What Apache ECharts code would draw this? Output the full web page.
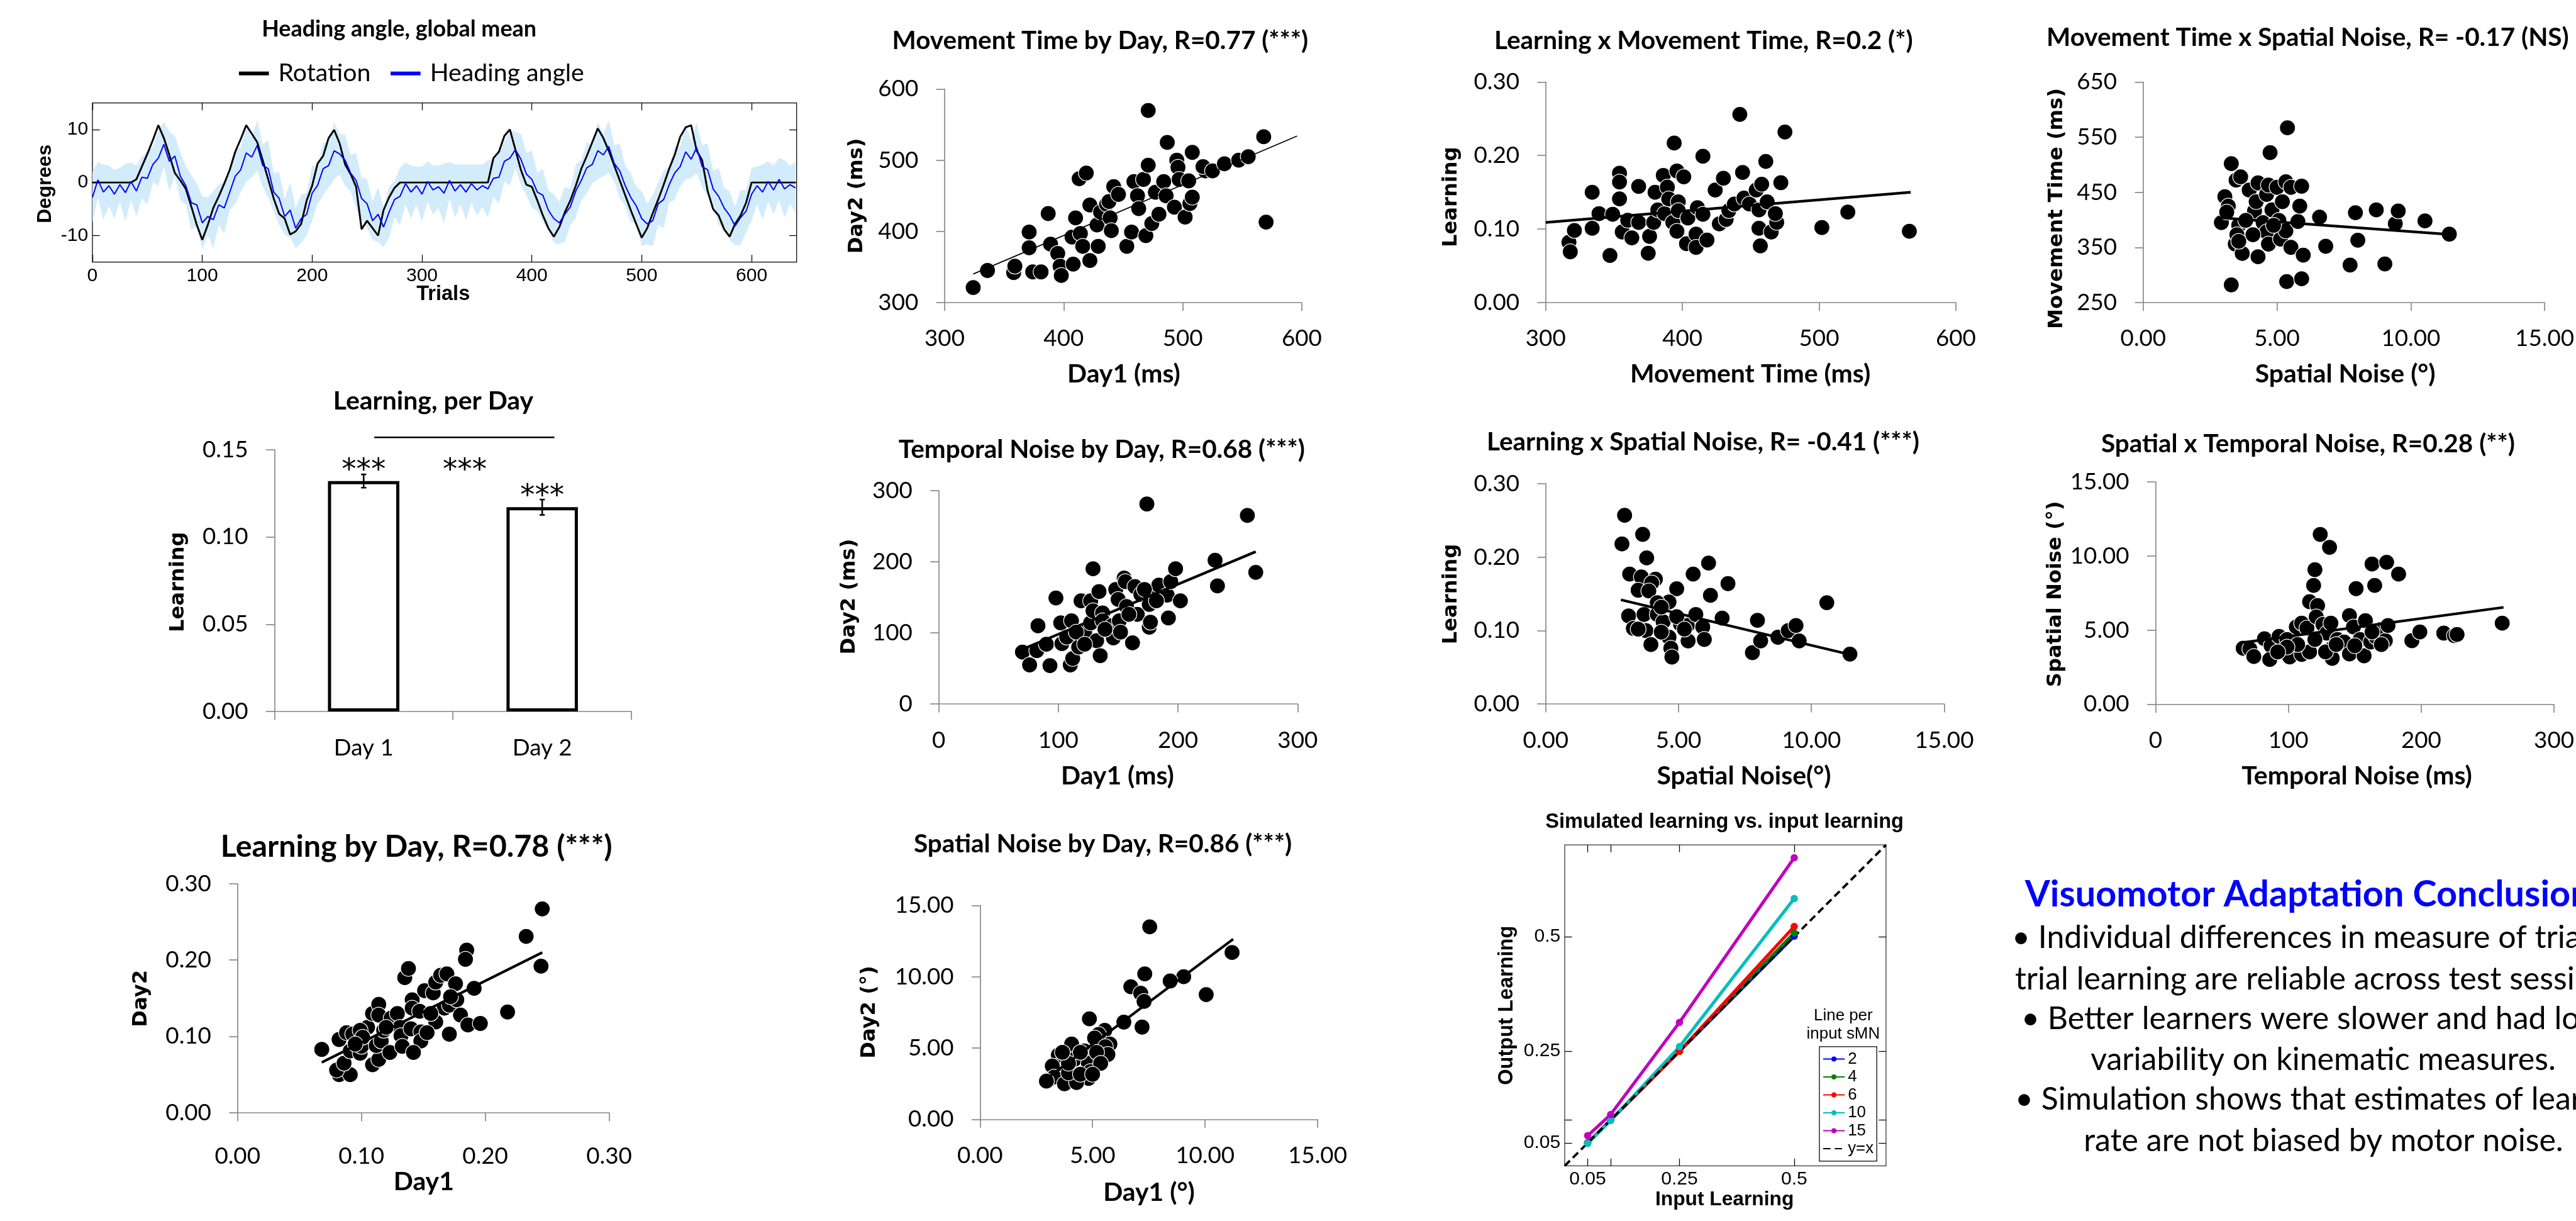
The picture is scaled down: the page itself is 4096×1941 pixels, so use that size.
<!DOCTYPE html>
<html>
<head>
<meta charset="utf-8">
<script src="https://cdn.jsdelivr.net/npm/echarts@6.0.0/dist/echarts.min.js"></script>
<style>
  html, body { margin: 0; padding: 0; background: #fff; }
  #chart { width: 4096px; height: 1941px; }
</style>
</head>
<body>
<div id="chart"></div>
<script>
// everything below is measured on the 4901px wide original, then scaled
const S = 0.835;
const p = v => v * S;

// ---- heading angle (sampled every 5 trials) ----
const trialStep = 5;
const rotationDeg = [
  0, 0, 0, 0, 0, 0, 0, 0, 0.6, 3.0,
  5.4, 8.0, 10.8, 8.4, 5.2, 1.8, 0.4, -1.2, -4.5, -8.0,
  -10.8, -8.0, -4.8, -2.6, -0.2, 2.4, 5.8, 8.2, 10.8, 9.2,
  7.6, 4.2, 0.6, -3.0, -5.9, -6.8, -9.8, -9.2, -7.8, -3.4,
  -0.6, 3.6, 5.0, 8.4, 9.9, 7.4, 3.4, 1.6, -0.8, -8.8,
  -7.2, -8.6, -10.0, -5.2, -2.8, -1.0, 0, 0, 0, 0,
  0, 0, 0, 0, 0, 0, 0, 0, 0, 0,
  0, 0, 0, 4.6, 5.8, 8.8, 10.0, 6.2, 2.4, -0.4,
  -0.8, -3.4, -6.2, -8.6, -10.2, -8.4, -5.6, -3.4, -0.6, 2.6,
  5.0, 7.6, 10.2, 8.4, 6.0, 3.2, 0.4, -2.4, -5.2, -7.8,
  -10.4, -8.6, -5.8, -3.2, -0.4, 2.6, 5.2, 8.6, 10.4, 10.8,
  6.0, 4.2, -1.6, -5.0, -6.2, -8.8, -10.2, -7.8, -6.2, -3.8,
  0, 0, 0, 0, 0, 0, 0, 0, 0
];
const headingDeg = [
  -2.8, 0.5, -1.8, -0.6, -2.2, -0.4, -1.9, 0.2, -1.6, 1.0,
  0.8, 3.4, 4.6, 7.2, 4.0, 5.0, 1.2, -0.6, -3.8, -4.2,
  -7.6, -6.4, -7.0, -4.2, -4.8, -1.8, 1.2, 2.4, 5.6, 4.8,
  7.0, 3.2, 2.6, -1.8, -3.0, -6.4, -5.2, -8.6, -6.8, -6.0,
  -2.0, -0.5, 2.6, 3.2, 6.0, 5.4, 4.2, 1.8, 0.4, -3.0,
  -4.0, -7.2, -6.0, -8.4, -5.6, -3.2, -2.6, -0.2, -1.8, -0.6,
  -2.2, 0.2, -1.4, -0.8, -2.0, 0.4, -1.6, -0.4, -1.8, -0.2,
  -1.4, -0.6, -1.2, 0.8, 1.0, 4.0, 4.6, 6.2, 4.4, 1.6,
  0.6, -1.8, -2.4, -5.2, -6.8, -7.6, -6.0, -4.6, -1.6, 0.4,
  2.8, 3.4, 6.0, 5.2, 6.8, 3.6, 2.2, -0.6, -2.8, -4.4,
  -6.8, -7.8, -7.2, -4.0, -3.2, -0.4, 1.8, 3.0, 5.8, 4.4,
  6.6, 3.0, 2.4, -1.2, -2.6, -4.8, -6.2, -8.2, -6.6, -5.4,
  -2.2, -0.6, -1.8, 0.2, -1.4, 0.6, -1.2, -0.4, -1.0
];
const headingSd = [
  4.8, 3.4, 5.2, 3.8, 4.6, 3.2, 5.4, 3.6, 4.8, 4.0,
  5.0, 3.4, 5.2, 4.2, 5.6, 3.8, 4.6, 3.6, 5.2, 4.0,
  5.0, 3.6, 5.4, 3.8, 4.8, 3.4, 5.2, 4.2, 5.4, 3.8,
  4.8, 4.0, 5.4, 3.6, 5.0, 3.4, 5.2, 3.8, 4.6, 4.0,
  5.2, 3.6, 5.0, 4.2, 5.4, 3.8, 4.8, 3.4, 5.2, 4.0,
  4.6, 3.6, 5.2, 3.8, 4.8, 3.4, 5.4, 4.0, 5.0, 3.6,
  5.2, 3.8, 4.6, 4.0, 5.6, 3.4, 5.0, 3.8, 5.2, 3.6,
  4.8, 4.0, 5.4, 3.6, 5.0, 3.8, 5.2, 3.4, 4.8, 4.0,
  5.4, 3.6, 5.0, 3.8, 4.6, 4.0, 5.2, 3.4, 5.0, 3.8,
  4.8, 3.6, 5.4, 4.0, 5.0, 3.4, 5.2, 3.8, 4.6, 3.6,
  5.2, 3.8, 4.8, 4.0, 5.4, 3.4, 5.0, 3.8, 5.2, 3.6,
  4.8, 4.0, 5.0, 3.4, 5.4, 3.8, 4.6, 3.6, 5.2, 4.0,
  5.0, 3.6, 5.2, 3.8, 4.6, 4.0, 5.4, 3.6, 4.8
];
const trialTicks = [0, 100, 200, 300, 400, 500, 600];
const degTicks = [-10, 0, 10];

// ---- learning per day ----
const dayLabels = ['Day 1', 'Day 2'];
const learnMean = [0.132, 0.117];
const learnSem = [0.0038, 0.0044];

// ---- scatter panels: [x, y] ----
const learnByDay = [[0.068,0.083],[0.082,0.050],[0.091,0.050],[0.080,0.056],[0.086,0.065],[0.082,0.096],[0.088,0.105],[0.093,0.103],[0.091,0.081],[0.099,0.078],[0.100,0.087],[0.105,0.112],[0.109,0.130],[0.114,0.142],[0.114,0.128],[0.109,0.063],[0.114,0.070],[0.112,0.088],[0.116,0.094],[0.123,0.079],[0.124,0.124],[0.129,0.130],[0.131,0.112],[0.132,0.101],[0.133,0.087],[0.135,0.177],[0.138,0.189],[0.141,0.148],[0.141,0.137],[0.140,0.110],[0.147,0.133],[0.148,0.106],[0.148,0.094],[0.151,0.160],[0.158,0.157],[0.160,0.171],[0.160,0.119],[0.164,0.180],[0.169,0.182],[0.167,0.137],[0.171,0.103],[0.171,0.141],[0.176,0.169],[0.177,0.148],[0.180,0.128],[0.185,0.213],[0.184,0.201],[0.186,0.115],[0.191,0.163],[0.196,0.117],[0.218,0.132],[0.233,0.231],[0.246,0.267],[0.245,0.192],[0.099,0.108],[0.118,0.108],[0.142,0.079],[0.153,0.105],[0.156,0.130],[0.120,0.112],[0.101,0.099],[0.095,0.090],[0.172,0.152]];
const learnByDayFit = [[0.068, 0.066], [0.246, 0.210]];

const mtByDay = [[324,321],[336,345],[358,342],[359,351],[371,399],[371,377],[374,343],[381,343],[387,425],[389,382],[395,369],[397,351],[398,338],[407,392],[408,354],[410,419],[413,474],[419,482],[414,397],[416,379],[422,359],[422,437],[428,409],[429,379],[431,427],[436,438],[439,419],[440,401],[442,463],[438,442],[446,452],[453,379],[457,399],[459,470],[462,450],[463,432],[467,473],[471,493],[471,570],[469,394],[474,411],[477,455],[480,424],[484,470],[486,450],[487,525],[493,434],[495,500],[496,490],[497,473],[502,420],[505,471],[506,439],[508,448],[508,511],[519,485],[517,491],[525,485],[535,495],[547,500],[555,505],[568,533],[570,413]];
const mtByDayFit = [[324, 340], [596, 534]];

const tnByDay = [[70,73],[76,55],[82,75],[83,110],[93,54],[90,84],[98,149],[102,114],[103,85],[107,94],[110,55],[112,64],[111,117],[117,80],[119,145],[122,101],[127,145],[127,114],[129,131],[129,190],[132,89],[134,158],[135,68],[137,128],[137,117],[145,110],[146,93],[148,161],[150,147],[151,117],[155,177],[156,172],[157,137],[162,86],[164,165],[166,126],[169,154],[174,281],[176,140],[176,108],[177,115],[181,154],[184,167],[191,153],[192,121],[194,172],[198,190],[202,145],[231,202],[233,166],[258,265],[265,185],[139,105],[152,101],[159,126],[172,161],[182,145],[115,101],[122,84]];
const tnByDayFit = [[70, 77], [265, 214]];

const snByDay = [[7.54,13.5],[11.2,11.7],[7.32,10.2],[9.05,10.0],[8.45,9.7],[6.7,9.3],[7.14,8.84],[7.29,8.27],[10.05,8.75],[6.39,6.82],[7.2,6.47],[4.86,7.05],[5.54,6.24],[5.27,5.95],[5.09,5.7],[5.77,5.28],[5.57,5.09],[5.68,4.55],[4.07,5.28],[4.64,4.8],[4.2,4.22],[4.82,3.93],[4.91,3.35],[4.82,2.87],[3.48,4.51],[3.57,3.83],[3.21,3.74],[3.07,2.77],[3.3,2.97],[3.75,2.49],[4.29,2.58],[3.93,3.26],[4.46,3.16],[2.95,2.68],[5.18,4.7],[4.46,4.7],[3.93,3.93],[5.36,3.93],[5.0,3.16],[3.66,4.7]];
const snByDayFit = [[3.0, 2.9], [11.25, 12.64]];

const learnMt = [[317,0.082],[318,0.069],[321,0.098],[334,0.150],[334,0.101],[339,0.121],[347,0.064],[349,0.120],[354,0.176],[354,0.164],[354,0.141],[356,0.096],[360,0.112],[363,0.088],[368,0.158],[368,0.109],[375,0.067],[376,0.090],[379,0.109],[380,0.150],[382,0.126],[386,0.173],[387,0.121],[389,0.157],[390,0.141],[393,0.109],[394,0.217],[396,0.097],[396,0.179],[397,0.137],[397,0.125],[401,0.171],[403,0.080],[404,0.115],[410,0.093],[411,0.129],[410,0.075],[415,0.199],[415,0.120],[418,0.085],[424,0.153],[427,0.107],[430,0.169],[432,0.113],[434,0.125],[438,0.134],[442,0.256],[444,0.177],[445,0.142],[449,0.134],[454,0.153],[456,0.126],[457,0.077],[456,0.101],[458,0.161],[461,0.192],[462,0.137],[465,0.096],[469,0.109],[468,0.121],[472,0.163],[475,0.232],[502,0.102],[521,0.123],[566,0.097]];
const learnMtFit = [[300, 0.109], [567, 0.150]];

const learnSn = [[2.97,0.257],[2.87,0.218],[3.65,0.231],[3.80,0.199],[3.16,0.177],[3.60,0.173],[4.13,0.170],[3.99,0.165],[3.48,0.155],[3.88,0.154],[4.93,0.157],[5.55,0.177],[6.13,0.192],[6.86,0.164],[6.20,0.148],[4.64,0.139],[4.20,0.138],[3.12,0.120],[3.30,0.103],[3.70,0.122],[3.77,0.100],[3.96,0.081],[4.20,0.122],[4.42,0.112],[4.64,0.091],[4.71,0.076],[4.75,0.064],[5.07,0.109],[5.33,0.107],[5.36,0.086],[5.65,0.122],[5.91,0.105],[5.97,0.088],[6.64,0.117],[7.78,0.070],[7.97,0.114],[8.09,0.086],[8.74,0.091],[9.13,0.100],[9.42,0.107],[9.54,0.086],[10.58,0.138],[11.45,0.068],[4.35,0.098],[4.93,0.119],[5.22,0.102],[3.48,0.102],[4.35,0.132]];
const learnSnFit = [[2.83, 0.142], [11.45, 0.0675]];

const mtSn = [[3.29,502],[3.29,282],[3.47,472],[3.64,478],[3.05,442],[2.92,395],[3.18,425],[3.12,414],[3.57,390],[3.44,356],[3.70,339],[3.50,373],[3.96,454],[4.16,416],[4.29,467],[4.22,433],[4.29,333],[4.48,395],[4.61,446],[4.68,463],[4.61,378],[4.68,356],[4.74,522],[4.81,418],[5.00,459],[5.07,399],[5.13,365],[5.20,433],[5.33,469],[5.39,567],[5.33,380],[5.36,288],[5.52,350],[5.52,459],[5.78,397],[5.85,425],[5.92,461],[5.98,336],[5.92,293],[6.59,405],[6.82,352],[7.73,318],[7.93,413],[8.02,363],[8.71,418],[9.03,320],[9.42,393],[9.53,416],[10.53,398],[11.44,374],[3.83,399],[4.10,373],[3.57,361],[4.87,390]];
const mtSnFit = [[2.8, 404], [11.44, 373.5]];

const snTn = [[66,3.78],[71,3.73],[74,3.22],[82,4.42],[87,3.95],[86,3.02],[93,4.58],[101,3.61],[101,3.19],[106,5.22],[110,5.47],[110,3.36],[114,5.14],[116,3.53],[116,6.92],[119,8.02],[120,9.08],[122,6.66],[121,5.90],[124,11.46],[126,5.39],[129,4.80],[131,10.59],[132,5.47],[133,3.78],[133,3.10],[137,4.37],[142,4.20],[146,5.98],[146,3.39],[149,5.22],[151,7.80],[154,4.37],[158,5.64],[157,3.27],[162,4.20],[163,9.46],[165,8.02],[166,4.54],[170,5.05],[173,4.29],[174,9.58],[175,5.31],[183,8.78],[193,4.29],[199,4.88],[217,4.80],[225,4.63],[227,4.71],[261,5.47],[99,4.37],[107,4.03],[120,4.37],[128,3.53],[136,4.03],[150,3.95],[163,4.88],[170,4.03],[99,3.86],[92,3.53]];
const snTnFit = [[66, 4.17], [262, 6.54]];

// ---- simulation ----
const simInput = [0.05, 0.1, 0.25, 0.5];
const simNoise = ['2', '4', '6', '10', '15'];
const simOutput = [
  [0.05, 0.1, 0.25, 0.501],
  [0.05, 0.1, 0.25, 0.508],
  [0.05, 0.1, 0.25, 0.522],
  [0.049, 0.099, 0.26, 0.583],
  [0.066, 0.112, 0.313, 0.672]
];
const simColors = ['#0000ff', '#008000', '#ff0000', '#00bfbf', '#bf00bf'];
const simIdentity = [[0, 0], [0.7, 0.7]];
const simTicks = [0.05, 0.1, 0.25, 0.5];
const simLabels = [0.05, 0.25, 0.5];

const grids = [], xAxes = [], yAxes = [], series = [], graphics = [];

function addGrid(l, t, r, b, extra) {
  grids.push(Object.assign({ left: p(l), top: p(t), width: p(r - l), height: p(b - t), containLabel: false }, extra || {}));
  return grids.length - 1;
}

// excel looking axes
const XL_LINE = { color: '#868686', width: p(2) };
function xlAxis(list, g, min, max, interval, dec, margin) {
  list.push({
    type: 'value', gridIndex: g, min: min, max: max, interval: interval,
    axisLine: { show: true, onZero: false, lineStyle: XL_LINE },
    axisTick: { show: true, length: p(16), lineStyle: XL_LINE },
    splitLine: { show: false },
    axisLabel: { color: '#000', fontFamily: 'Lato', fontSize: p(44), margin: p(margin), formatter: v => v.toFixed(dec) }
  });
  return list.length - 1;
}
function xlScatter(xi, yi, pts) {
  series.push({
    type: 'scatter', xAxisIndex: xi, yAxisIndex: yi, data: pts, symbolSize: p(30), silent: true,
    itemStyle: { color: '#000', borderColor: '#fff', borderWidth: p(1.5), opacity: 1 }
  });
}
function xlFit(xi, yi, pts, w) {
  series.push({
    type: 'line', xAxisIndex: xi, yAxisIndex: yi, data: pts, symbol: 'none', silent: true, z: 4,
    lineStyle: { color: '#000', width: p(w) }
  });
}
function scatterPanel(box, xr, yr, pts, fit, fitW, xMargin) {
  const g = addGrid(box[0], box[1], box[2], box[3]);
  const xi = xlAxis(xAxes, g, xr[0], xr[1], xr[2], xr[3], xMargin || 47);
  const yi = xlAxis(yAxes, g, yr[0], yr[1], yr[2], yr[3], 50);
  xlScatter(xi, yi, pts);
  xlFit(xi, yi, fit, fitW);
}

// matlab looking axes (box, inward ticks)
function mlAxes(g, xr, yr, xTicks, xLabels, yTicks, yLabels) {
  const tick = { show: true, inside: true, length: p(14), lineStyle: { color: '#000', width: p(1.5) } };
  const lab = { color: '#000', fontFamily: 'Liberation Sans', fontSize: p(36), margin: p(8) };
  const noLine = { show: false, onZero: false };
  const xi = xAxes.length;
  xAxes.push({ type: 'value', gridIndex: g, min: xr[0], max: xr[1], axisLine: noLine, splitLine: { show: false },
    axisTick: Object.assign({ customValues: xTicks }, tick), axisLabel: Object.assign({ customValues: xLabels }, lab) });
  xAxes.push({ type: 'value', gridIndex: g, position: 'top', min: xr[0], max: xr[1], axisLine: noLine, splitLine: { show: false },
    axisTick: Object.assign({ customValues: xTicks }, tick), axisLabel: { show: false } });
  const yi = yAxes.length;
  yAxes.push({ type: 'value', gridIndex: g, min: yr[0], max: yr[1], axisLine: noLine, splitLine: { show: false },
    axisTick: Object.assign({ customValues: yTicks }, tick), axisLabel: Object.assign({ customValues: yLabels }, lab) });
  yAxes.push({ type: 'value', gridIndex: g, position: 'right', min: yr[0], max: yr[1], axisLine: noLine, splitLine: { show: false },
    axisTick: Object.assign({ customValues: yTicks }, tick), axisLabel: { show: false } });
  return [xi, yi];
}

// ---------- A: heading angle ----------
const gA = addGrid(176, 196, 1517, 499, { show: true, borderColor: '#000', borderWidth: p(1.5) });
const [axA, ayA] = mlAxes(gA, [0, 641], [-15, 15], trialTicks, trialTicks, degTicks, degTicks);
series.push({
  type: 'custom', xAxisIndex: axA, yAxisIndex: ayA, data: [[0, 0]], silent: true, clip: true,
  renderItem: function (params, api) {
    const pts = [];
    for (let i = 0; i < headingDeg.length; i++) pts.push(api.coord([i * trialStep, headingDeg[i] + headingSd[i]]));
    for (let i = headingDeg.length - 1; i >= 0; i--) pts.push(api.coord([i * trialStep, headingDeg[i] - headingSd[i]]));
    return { type: 'polygon', shape: { points: pts }, style: { fill: '#d3ecfc' } };
  }
});
series.push({
  name: 'Rotation', type: 'line', xAxisIndex: axA, yAxisIndex: ayA, symbol: 'none', silent: true,
  data: rotationDeg.map((v, i) => [i * trialStep, v]), itemStyle: { color: '#000' }, lineStyle: { color: '#000', width: p(3.5) }
});
series.push({
  name: 'Heading angle', type: 'line', xAxisIndex: axA, yAxisIndex: ayA, symbol: 'none', silent: true,
  data: headingDeg.map((v, i) => [i * trialStep, v]), itemStyle: { color: '#0000ff' }, lineStyle: { color: '#0000ff', width: p(2.4) }
});

// ---------- B: learning per day ----------
const gB = addGrid(522.5, 856, 1202.5, 1354.5);
xAxes.push({
  type: 'category', gridIndex: gB, data: dayLabels,
  axisLine: { show: true, lineStyle: XL_LINE }, axisTick: { show: true, length: p(16), lineStyle: XL_LINE },
  axisLabel: { color: '#000', fontFamily: 'Lato', fontSize: p(44), margin: p(48) }
});
const bxB = xAxes.length - 1;
const byB = xlAxis(yAxes, gB, 0, 0.15, 0.05, 2, 50);
series.push({
  type: 'bar', xAxisIndex: bxB, yAxisIndex: byB, data: learnMean, barWidth: '40%', silent: true,
  itemStyle: { color: '#fff', borderColor: '#000', borderWidth: p(6) },
  label: { show: true, position: 'top', formatter: '***', fontFamily: 'DejaVu Sans', fontSize: p(56), color: '#000', distance: 0, offset: [0, p(9)] }
});
series.push({
  type: 'custom', xAxisIndex: bxB, yAxisIndex: byB, data: learnMean.map((m, i) => [i, m]), z: 5, silent: true,
  renderItem: function (params, api) {
    const i = params.dataIndex;
    const hi = api.coord([i, learnMean[i] + learnSem[i]]);
    const lo = api.coord([i, learnMean[i] - learnSem[i]]);
    const hw = p(5), st = { stroke: '#000', lineWidth: p(3) };
    return { type: 'group', children: [
      { type: 'line', shape: { x1: hi[0], y1: hi[1], x2: lo[0], y2: lo[1] }, style: st },
      { type: 'line', shape: { x1: hi[0] - hw, y1: hi[1], x2: hi[0] + hw, y2: hi[1] }, style: st },
      { type: 'line', shape: { x1: lo[0] - hw, y1: lo[1], x2: lo[0] + hw, y2: lo[1] }, style: st }
    ] };
  }
});

// ---------- scatter panels ----------
scatterPanel([452.3, 1682.4, 1160, 2118.6], [0, 0.3, 0.1, 2], [0, 0.3, 0.1, 2], learnByDay, learnByDayFit, 5, 61);
scatterPanel([1798.8, 169.6, 2479, 575.9], [300, 600, 100, 0], [300, 600, 100, 0], mtByDay, mtByDayFit, 2);
scatterPanel([1787.5, 933.8, 2471, 1340.4], [0, 300, 100, 0], [0, 300, 100, 0], tnByDay, tnByDayFit, 5);
scatterPanel([1866.3, 1723.8, 2509, 2131], [0, 15, 5, 2], [0, 15, 5, 2], snByDay, snByDayFit, 5);
scatterPanel([2943.4, 156.2, 3724.4, 575.9], [300, 600, 100, 0], [0, 0.3, 0.1, 2], learnMt, learnMtFit, 5);
scatterPanel([2943.4, 920.9, 3702.4, 1340.4], [0, 15, 5, 2], [0, 0.3, 0.1, 2], learnSn, learnSnFit, 5);
scatterPanel([4081.3, 156.2, 4853.4, 575.9], [0, 15, 5, 2], [250, 650, 100, 0], mtSn, mtSnFit, 5);
scatterPanel([4104.7, 917.5, 4874.2, 1340.8], [0, 300, 100, 0], [0, 15, 5, 2], snTn, snTnFit, 5);

// ---------- K: simulation ----------
const gK = addGrid(2979.6, 1608.5, 3591.5, 2219.7, { show: true, borderColor: '#333', borderWidth: p(1.5) });
const [axK, ayK] = mlAxes(gK, [0, 0.7], [0, 0.7], simTicks, simLabels, simTicks, simLabels);
simNoise.forEach((n, k) => {
  series.push({
    name: n, type: 'line', xAxisIndex: axK, yAxisIndex: ayK, silent: true,
    data: simInput.map((x, i) => [x, simOutput[k][i]]),
    symbol: 'circle', symbolSize: p(14), showSymbol: true,
    itemStyle: { color: simColors[k] }, lineStyle: { color: simColors[k], width: p(6) }
  });
});
series.push({
  name: 'y=x', type: 'line', xAxisIndex: axK, yAxisIndex: ayK, data: simIdentity, symbol: 'none', silent: true,
  itemStyle: { color: '#000' }, lineStyle: { color: '#000', width: p(4.5), type: [p(14), p(8)] }
});

// ---------- texts ----------
function txt(str, x, y, size, o) {
  o = o || {};
  graphics.push({
    type: 'text', x: p(x), y: p(y), rotation: o.rot || 0, silent: true,
    style: { text: str, fontFamily: o.font || 'Lato', fontSize: p(size), fontWeight: o.bold ? 'bold' : 'normal',
      fill: o.color || '#000', align: o.align || 'center', verticalAlign: 'middle' }
  });
}
const R90 = Math.PI / 2;
const TT = 48.5, XT = 49;
// titles
txt('Heading angle, global mean', 760, 56, 43, { bold: true });
txt('Learning, per Day', 825, 764, 49, { bold: true });
txt('Learning by Day, R=0.78 (***)', 793, 1613, 58, { bold: true });
txt('Movement Time by Day, R=0.77 (***)', 2095, 78, TT, { bold: true });
txt('Temporal Noise by Day, R=0.68 (***)', 2098, 856, TT, { bold: true });
txt('Spatial Noise by Day, R=0.86 (***)', 2100, 1607, TT, { bold: true });
txt('Learning x Movement Time, R=0.2 (*)', 3244, 78, TT, { bold: true });
txt('Learning x Spatial Noise, R= -0.41 (***)', 3243, 842, TT, { bold: true });
txt('Movement Time x Spatial Noise, R= -0.17 (NS)', 3897, 72, TT, { bold: true, align: 'left' });
txt('Spatial x Temporal Noise, R=0.28 (**)', 4395, 845, TT, { bold: true });
// y axis names
const YF = 'DejaVu Sans', YS = 38.5;
txt('Learning', 339.5, 1108, YS, { bold: true, font: YF, rot: R90 });
txt('Day2', 269, 1901, YS, { bold: true, font: YF, rot: R90 });
txt('Day2 (ms)', 1632, 373, YS, { bold: true, font: YF, rot: R90 });
txt('Day2 (ms)', 1618, 1136, YS, { bold: true, font: YF, rot: R90 });
txt('Day2 (°)', 1656, 1927, YS, { bold: true, font: YF, rot: R90 });
txt('Learning', 2764, 375, YS, { bold: true, font: YF, rot: R90 });
txt('Learning', 2764, 1131, YS, { bold: true, font: YF, rot: R90 });
txt('Movement Time (ms)', 3917, 397, YS, { bold: true, font: YF, rot: R90 });
txt('Spatial Noise (°)', 3915, 1131, YS, { bold: true, font: YF, rot: R90 });
// x axis names
txt('Day1', 807, 2250, XT, { bold: true });
txt('Day1 (ms)', 2140, 712, XT, { bold: true });
txt('Day1 (ms)', 2128, 1478, XT, { bold: true });
txt('Day1 (°)', 2188, 2271, XT, { bold: true });
txt('Movement Time (ms)', 3333, 712, XT, { bold: true });
txt('Spatial Noise(°)', 3321, 1478, XT, { bold: true });
txt('Spatial Noise (°)', 4466, 712, XT, { bold: true });
txt('Temporal Noise (ms)', 4488, 1478, XT, { bold: true });
// matlab panels
const MF = 'Liberation Sans';
txt('Degrees', 87, 350, 38, { bold: true, font: MF, rot: R90 });
txt('Trials', 844, 561, 39, { bold: true, font: MF });
txt('Simulated learning vs. input learning', 3284, 1565, 39, { bold: true, font: MF });
txt('Output Learning', 2870, 1914, 39, { bold: true, font: MF, rot: R90 });
txt('Input Learning', 3284, 2284, 38, { bold: true, font: MF });
txt('Line per', 3510, 1934, 31, { font: MF });
txt('input sMN', 3510, 1969, 31, { font: MF });
// significance marks
txt('***', 885, 897, 56, { font: 'DejaVu Sans' });
graphics.push({ type: 'line', silent: true, shape: { x1: p(712.6), y1: p(832.5), x2: p(1055.7), y2: p(832.5) }, style: { stroke: '#000', lineWidth: p(3) } });
// conclusions
txt('Visuomotor Adaptation Conclusions', 3856, 1703, 69, { bold: true, color: '#0000ff', align: 'left' });
txt('\u2022 Individual differences in measure of trial-by-', 3831, 1786, 60, { align: 'left' });
txt('trial learning are reliable across test sessions.', 3837, 1864, 60, { align: 'left' });
txt('\u2022 Better learners were slower and had lower', 3849, 1940, 60, { align: 'left' });
txt('variability on kinematic measures.', 3981, 2018, 60, { align: 'left' });
txt('\u2022 Simulation shows that estimates of learning', 3837, 2093, 60, { align: 'left' });
txt('rate are not biased by motor noise.', 3968, 2172, 60, { align: 'left' });

const option = {
  animation: false,
  backgroundColor: '#fff',
  textStyle: { fontFamily: 'Lato' },
  grid: grids,
  xAxis: xAxes,
  yAxis: yAxes,
  legend: [
    {
      data: ['Rotation', 'Heading angle'], left: p(455), top: p(140) - p(47) / 2, padding: 0,
      icon: 'rect', itemWidth: p(57), itemHeight: p(7), itemGap: p(38), selectedMode: false,
      textStyle: { fontFamily: 'Lato', fontSize: p(47), color: '#000', padding: [0, 0, 0, p(12)] }
    },
    {
      data: ['2', '4', '6', '10', '15', { name: 'y=x', itemStyle: { opacity: 0 } }],
      orient: 'vertical', left: p(3464.6), top: p(1992.7),
      padding: [p(8), p(6), p(8), p(6)], borderColor: '#000', borderWidth: p(1.5), backgroundColor: '#fff',
      itemWidth: p(41), itemHeight: p(12), itemGap: p(3), selectedMode: false,
      textStyle: { fontFamily: 'Liberation Sans', fontSize: p(31), color: '#000' }
    }
  ],
  series: series,
  graphic: graphics
};

const chart = echarts.init(document.getElementById('chart'));
chart.setOption(option);
</script>
</body>
</html>
